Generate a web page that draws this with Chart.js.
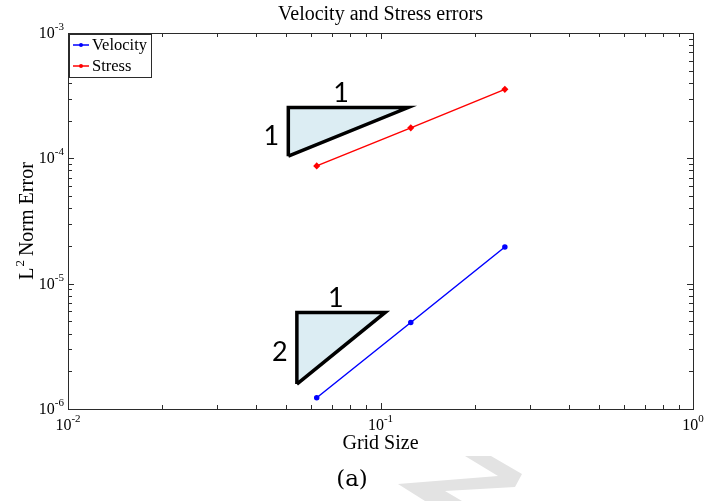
<!DOCTYPE html>
<html><head><meta charset="utf-8">
<script src="https://cdn.jsdelivr.net/npm/chart.js@4/dist/chart.umd.min.js"></script>
<style>html,body{margin:0;padding:0;background:#fff}#wrap{width:704px;height:501px}</style>
</head><body><div id="wrap"><canvas id="c" width="704" height="501"></canvas></div>
<script>
// Mesh sizes and measured L2 errors
const gridSize = [0.0625, 0.125, 0.25];
const velocityError = [1.23e-6, 4.9e-6, 1.96e-5];
const stressError = [8.7e-5, 1.75e-4, 3.55e-4];

// Decade exponents used for the tick labels
const xTickExponents = [-2, -1, 0];
const yTickExponents = [-6, -5, -4, -3];

// Reference slope triangles (closed polygons in data space)
const slope1X = [0.0507, 0.0507, 0.1225, 0.0507];
const slope1Y = [1.04e-4, 2.54e-4, 2.54e-4, 1.04e-4];
const slope1Labels = ['1', '1'];   // run, rise
const slope2X = [0.054, 0.054, 0.1035, 0.054];
const slope2Y = [1.58e-6, 5.9e-6, 5.9e-6, 1.58e-6];
const slope2Labels = ['1', '2'];

const seriesNames = ['Velocity', 'Stress'];
const seriesColors = ['#0000ff', '#ff0000'];

const toXY = (xs, ys) => xs.map((x, i) => ({x: x, y: ys[i]}));

const SERIF = '"Liberation Serif", "Times New Roman", serif';

const frame = {
  id: 'frame',
  afterDraw(chart) {
    const ctx = chart.ctx;
    const a = chart.chartArea;
    const xs = chart.scales.x, ys = chart.scales.y;
    ctx.save();

    // box
    ctx.strokeStyle = '#2b2b2b';
    ctx.lineWidth = 1;
    ctx.strokeRect(Math.round(a.left) + 0.5, Math.round(a.top) + 0.5,
                   Math.round(a.right - a.left), Math.round(a.bottom - a.top));

    // inward ticks on all four sides
    const tick = (x1, y1, x2, y2) => { ctx.beginPath(); ctx.moveTo(x1, y1); ctx.lineTo(x2, y2); ctx.stroke(); };
    for (let e = xTickExponents[0]; e <= xTickExponents[xTickExponents.length - 1]; e++) {
      for (let k = 1; k <= 9; k++) {
        const v = k * Math.pow(10, e);
        if (v > xs.max * 1.0001) break;
        const px = Math.round(xs.getPixelForValue(v)) + 0.5;
        const len = k === 1 ? 6 : 4;
        tick(px, a.bottom, px, a.bottom - len);
        tick(px, a.top, px, a.top + len);
      }
    }
    for (let e = yTickExponents[0]; e <= yTickExponents[yTickExponents.length - 1]; e++) {
      for (let k = 1; k <= 9; k++) {
        const v = k * Math.pow(10, e);
        if (v > ys.max * 1.0001) break;
        const py = Math.round(ys.getPixelForValue(v)) + 0.5;
        const len = k === 1 ? 6 : 4;
        tick(a.left, py, a.left + len, py);
        tick(a.right, py, a.right - len, py);
      }
    }

    // tick labels 10^n
    ctx.fillStyle = '#000';
    const base = '16px ' + SERIF, sup = '11px ' + SERIF;
    ctx.textBaseline = 'alphabetic';
    yTickExponents.forEach(e => {
      const py = ys.getPixelForValue(Math.pow(10, e));
      const s = String(e);
      ctx.font = sup; const ws = ctx.measureText(s).width;
      ctx.font = base; const wb = ctx.measureText('10').width;
      const right = a.left - 4;
      ctx.textAlign = 'left';
      ctx.fillText('10', right - ws - wb, py + 5);
      ctx.font = sup;
      ctx.fillText(s, right - ws, py - 3);
    });
    xTickExponents.forEach(e => {
      const px = xs.getPixelForValue(Math.pow(10, e));
      const s = String(e);
      ctx.font = sup; const ws = ctx.measureText(s).width;
      ctx.font = base; const wb = ctx.measureText('10').width;
      const left = px - (wb + ws) / 2;
      ctx.textAlign = 'left';
      ctx.fillText('10', left, a.bottom + 21);
      ctx.font = sup;
      ctx.fillText(s, left + wb, a.bottom + 13);
    });

    // titles
    const cx = (a.left + a.right) / 2;
    ctx.textAlign = 'center';
    ctx.font = '20px ' + SERIF;
    ctx.fillText('Velocity and Stress errors', cx, 20);
    ctx.font = '20px ' + SERIF;
    ctx.fillText('Grid Size', cx, a.bottom + 40);

    // y axis title with superscript
    ctx.save();
    ctx.translate(33, (a.top + a.bottom) / 2);
    ctx.rotate(-Math.PI / 2);
    ctx.font = '20px ' + SERIF;
    const wL = ctx.measureText('L').width;
    const wRest = ctx.measureText(' Norm Error').width;
    ctx.font = '13px ' + SERIF;
    const w2 = ctx.measureText('2').width;
    const total = wL + w2 + wRest;
    let sx = -total / 2;
    ctx.textAlign = 'left';
    ctx.font = '20px ' + SERIF;
    ctx.fillText('L', sx, 0);
    ctx.font = '13px ' + SERIF;
    ctx.fillText('2', sx + wL + 1, -9);
    ctx.font = '20px ' + SERIF;
    ctx.fillText(' Norm Error', sx + wL + w2, 0);
    ctx.restore();

    // legend
    const lx = a.left + 1, ly = a.top + 1, lw = 82, lh = 43;
    ctx.fillStyle = '#fff';
    ctx.fillRect(lx, ly, lw, lh);
    ctx.strokeStyle = '#2b2b2b';
    ctx.strokeRect(lx + 0.5, ly + 0.5, lw, lh);
    ctx.font = '16.5px ' + SERIF;
    ctx.textAlign = 'left';
    seriesNames.forEach((name, i) => {
      const yy = ly + 11 + i * 21;
      ctx.strokeStyle = seriesColors[i];
      ctx.lineWidth = 1.5;
      tick(lx + 4, yy, lx + 20, yy);
      ctx.fillStyle = seriesColors[i];
      ctx.beginPath(); ctx.arc(lx + 12, yy, 2, 0, Math.PI * 2); ctx.fill();
      ctx.fillStyle = '#000';
      ctx.fillText(name, lx + 23, yy + 5);
    });

    // slope triangle labels
    ctx.font = '27px Lato, "DejaVu Sans", sans-serif';
    ctx.fillStyle = '#000';
    ctx.textAlign = 'center';
    ctx.textBaseline = 'middle';
    [[slope1X, slope1Y, slope1Labels], [slope2X, slope2Y, slope2Labels]].forEach(([tx, ty, lab]) => {
      const left = xs.getPixelForValue(tx[0]);
      const right = xs.getPixelForValue(tx[2]);
      const top = ys.getPixelForValue(ty[1]);
      const bottom = ys.getPixelForValue(ty[0]);
      ctx.fillText(lab[0], left + 0.44 * (right - left), top - 14);
      ctx.fillText(lab[1], left - 17, (top + bottom) / 2 + 4);
    });

    // caption
    ctx.textBaseline = 'alphabetic';
    ctx.font = '23px "DejaVu Serif", "Liberation Serif", serif';
    ctx.fillText('(a)', 352, 486);

    // faint arrow mark below the chart
    ctx.fillStyle = '#e3e3e3';
    ctx.beginPath();
    ctx.moveTo(465, 456); ctx.lineTo(491, 456); ctx.lineTo(522, 474);
    ctx.lineTo(515, 487); ctx.lineTo(445, 491); ctx.lineTo(462, 501);
    ctx.lineTo(425, 501); ctx.lineTo(398, 484); ctx.lineTo(498, 476);
    ctx.closePath(); ctx.fill();

    ctx.restore();
  }
};

new Chart(document.getElementById('c'), {
  type: 'scatter',
  data: {
    datasets: [
      { label: seriesNames[0], data: toXY(gridSize, velocityError), showLine: true,
        borderColor: seriesColors[0], backgroundColor: seriesColors[0], borderWidth: 1.5,
        pointRadius: 2, pointStyle: 'circle', order: 1 },
      { label: seriesNames[1], data: toXY(gridSize, stressError), showLine: true,
        borderColor: seriesColors[1], backgroundColor: seriesColors[1], borderWidth: 1.5,
        pointRadius: 2.5, pointStyle: 'rectRot', order: 1 },
      { label: 'slope 1', data: toXY(slope1X, slope1Y), showLine: true, fill: 'shape',
        borderColor: '#000', backgroundColor: '#dcedf3', borderWidth: 3.5,
        borderJoinStyle: 'miter', pointRadius: 0, order: 2 },
      { label: 'slope 2', data: toXY(slope2X, slope2Y), showLine: true, fill: 'shape',
        borderColor: '#000', backgroundColor: '#dcedf3', borderWidth: 3.5,
        borderJoinStyle: 'miter', pointRadius: 0, order: 2 }
    ]
  },
  options: {
    responsive: false,
    devicePixelRatio: 1,
    animation: false,
    layout: { padding: { left: 68, right: 11, top: 33, bottom: 92 } },
    plugins: { legend: { display: false }, tooltip: { enabled: false }, title: { display: false } },
    scales: {
      x: { type: 'logarithmic', min: 0.01, max: 1, display: false },
      y: { type: 'logarithmic', min: 1e-6, max: 1e-3, display: false }
    }
  },
  plugins: [frame]
});
</script>
</body></html>
